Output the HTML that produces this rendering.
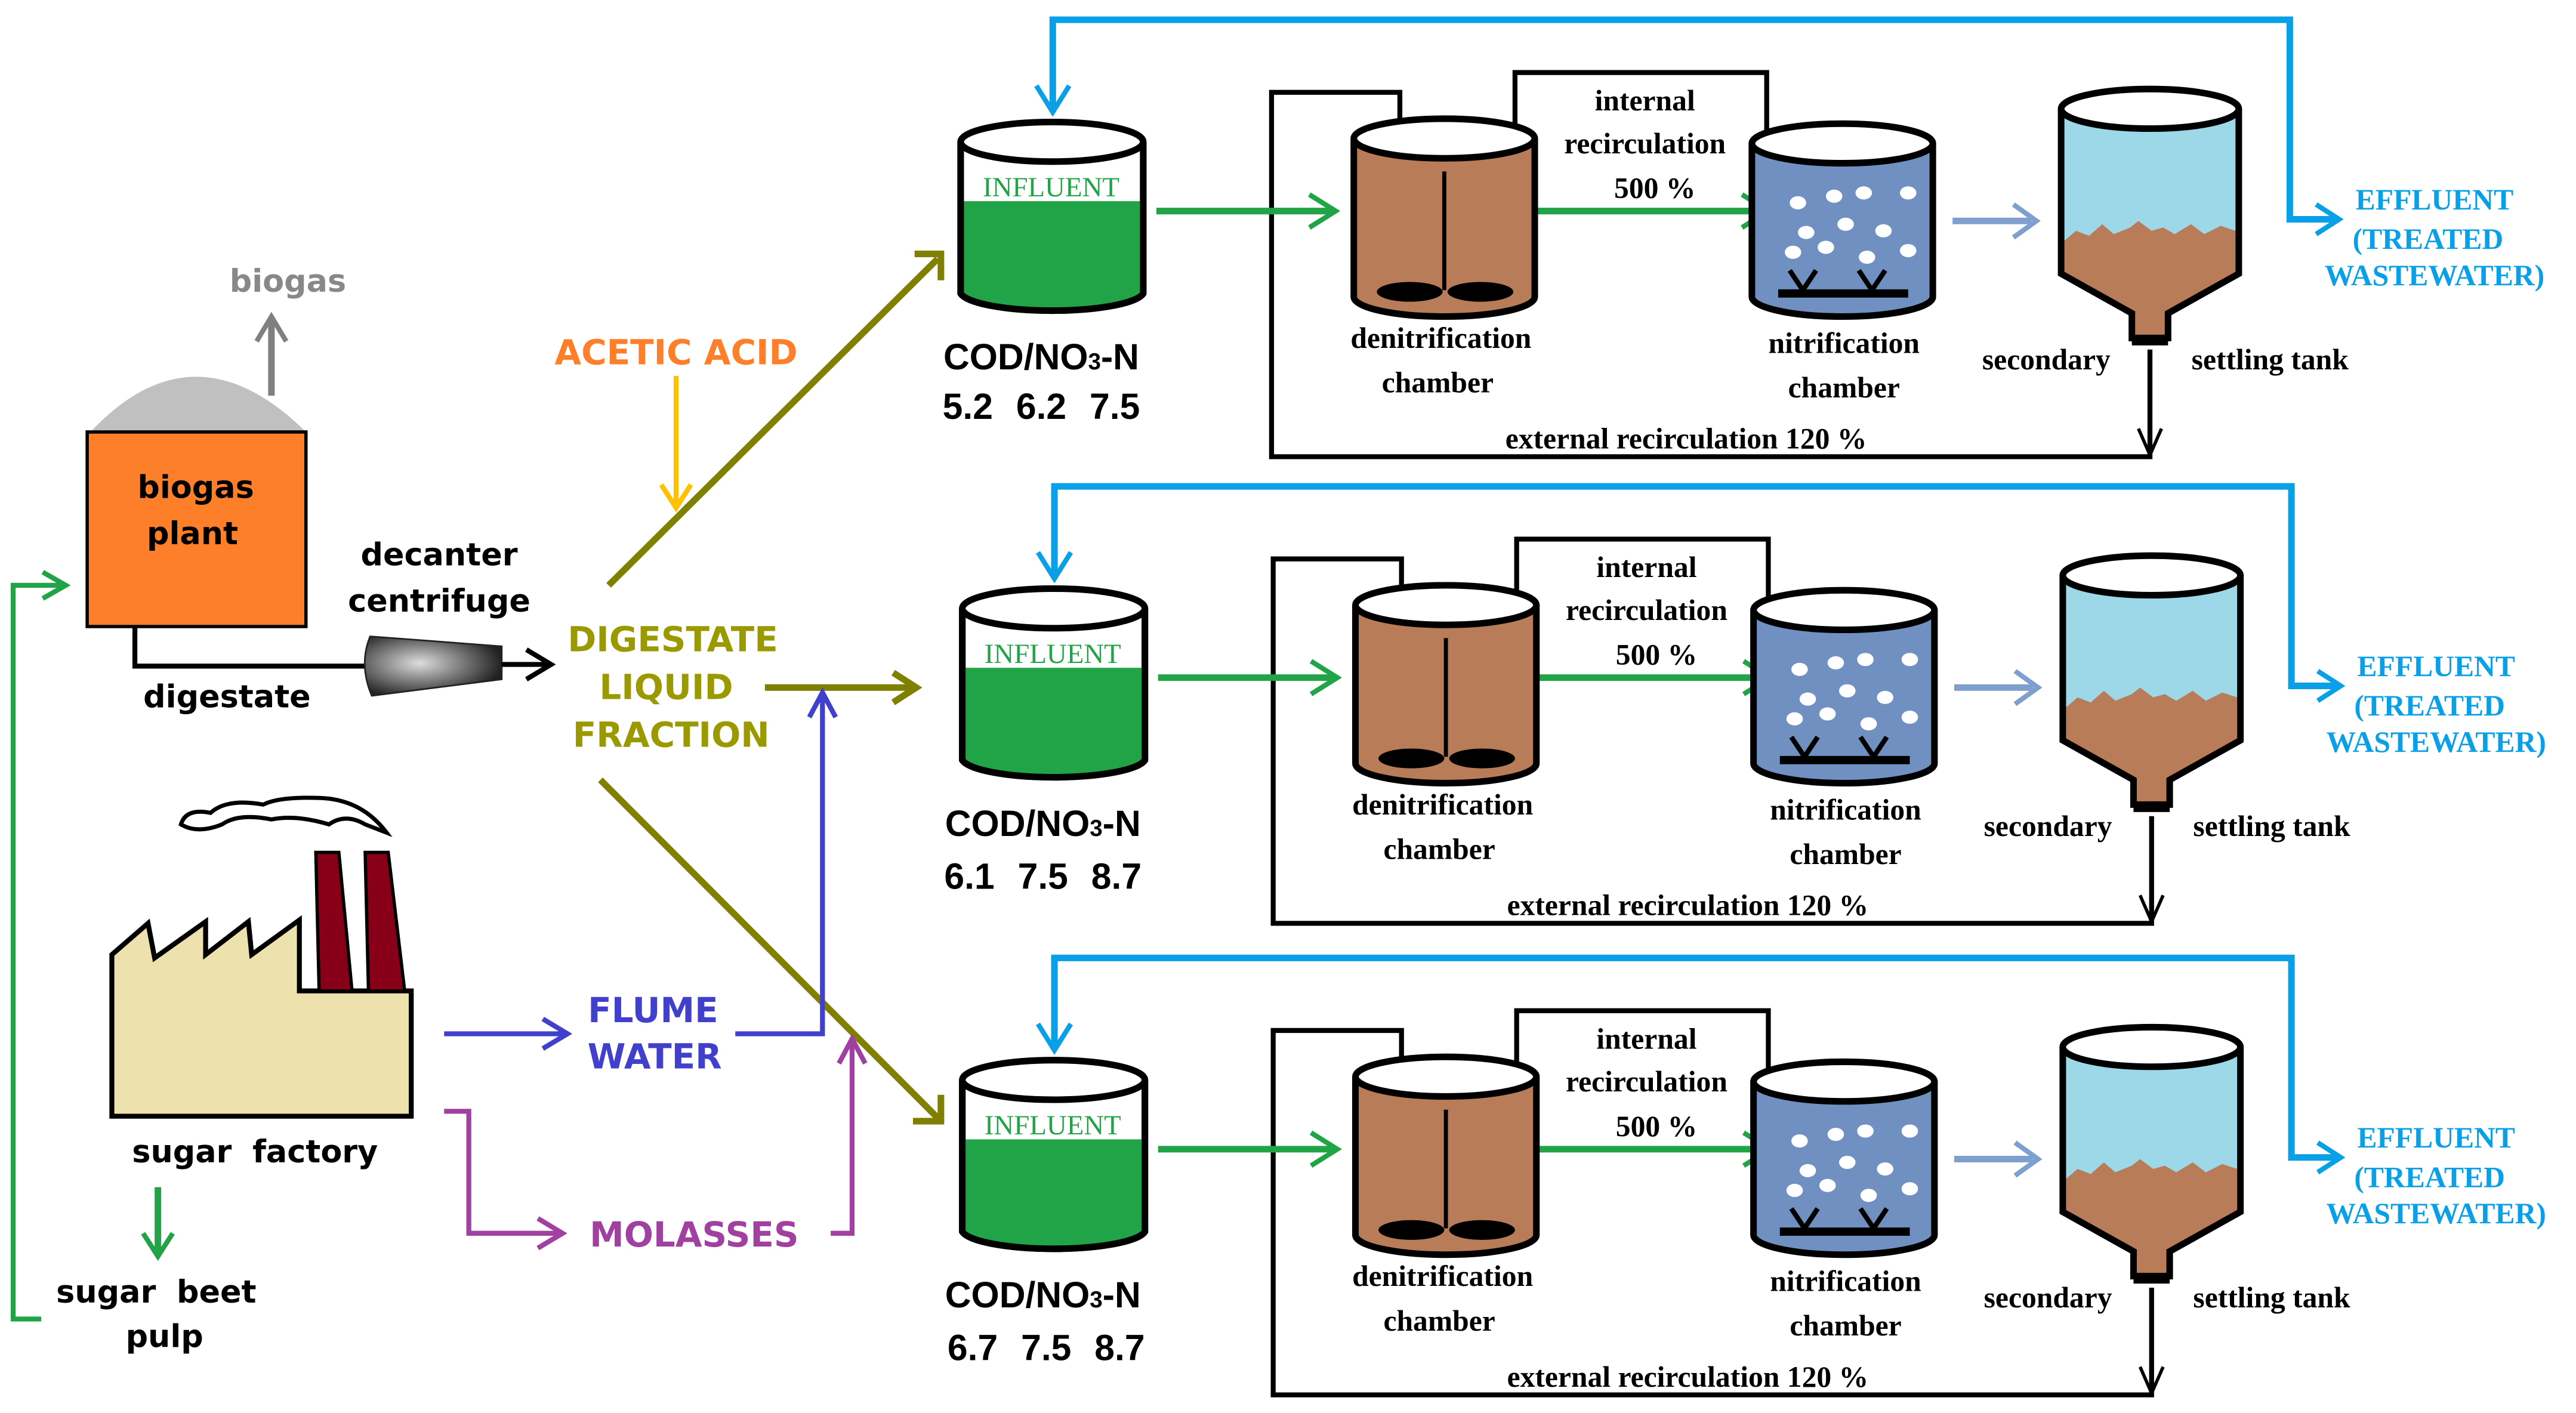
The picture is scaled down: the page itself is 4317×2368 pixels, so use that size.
<!DOCTYPE html>
<html><head><meta charset="utf-8"><style>
html,body{margin:0;padding:0;background:#fff;width:4317px;height:2368px;overflow:hidden}
svg{display:block}
.s{font-family:"DejaVu Sans","Liberation Sans",sans-serif;font-weight:bold}
.r{font-family:"Liberation Serif",serif;font-weight:bold;font-size:18px}
.c{font-family:"Liberation Sans",sans-serif;font-weight:bold;font-size:22px}
</style></head><body>
<svg width="4317" height="2368" viewBox="0 0 1566 857" preserveAspectRatio="none" xmlns="http://www.w3.org/2000/svg">
<defs>
<radialGradient id="dg" cx="0.4" cy="0.45" r="0.6"><stop offset="0" stop-color="#ddd"/><stop offset="1" stop-color="#222"/></radialGradient>
<g id="train">
  <polyline points="640,68 640,12 1392,12 1392,133 1420,133" fill="none" stroke="#0aa0e8" stroke-width="4"/>
  <path d="M630,52 L640,68 L650,52" fill="none" stroke="#0aa0e8" stroke-width="3"/>
  <path d="M1408,124 L1422,133 L1408,142" fill="none" stroke="#0aa0e8" stroke-width="3"/>
  <text x="1480" y="127" text-anchor="middle" font-family="Liberation Serif,serif" font-weight="bold" font-size="18" fill="#0aa0e8">EFFLUENT</text>
  <text x="1476" y="151" text-anchor="middle" font-family="Liberation Serif,serif" font-weight="bold" font-size="18" fill="#0aa0e8">(TREATED</text>
  <text x="1480" y="173" text-anchor="middle" font-family="Liberation Serif,serif" font-weight="bold" font-size="18" fill="#0aa0e8">WASTEWATER)</text>
  <polyline points="851,98 851,56 773,56 773,277 1307,277 1307,212" fill="none" stroke="#000" stroke-width="3"/>
  <path d="M845,84 L851,100 L857,84" fill="none" stroke="#000" stroke-width="2"/>
  <path d="M1300,260 L1307,276 L1314,260" fill="none" stroke="#000" stroke-width="2"/>
  <polyline points="1074,80 1074,44 921,44 921,96" fill="none" stroke="#000" stroke-width="3"/>
  <path d="M915,82 L921,96 L928,82" fill="none" stroke="#000" stroke-width="2"/>
  <text x="1000" y="67" text-anchor="middle" class="r">internal</text>
  <text x="1000" y="93" text-anchor="middle" class="r">recirculation</text>
  <text x="1006" y="120" text-anchor="middle" class="r">500 %</text>
  <path d="M584,86 L584,178 A56,12 0 0 0 695,178 L695,86" fill="#fff" stroke="#000" stroke-width="4"/>
  <path d="M586,122 L693,122 L693,178 A54,11 0 0 1 586,178 Z" fill="#21a347"/>
  <path d="M584,86 L584,178 A56,12 0 0 0 695,178 L695,86" fill="none" stroke="#000" stroke-width="4"/>
  <ellipse cx="639.5" cy="86" rx="55.5" ry="12" fill="#fff" stroke="#000" stroke-width="4"/>
  <text x="639" y="119" text-anchor="middle" font-family="Liberation Serif,serif" font-size="17" fill="#21a347">INFLUENT</text>
  <text x="633" y="224" text-anchor="middle" class="c">COD/NO<tspan font-size="14">3</tspan>-N</text>
  <line x1="703" y1="128" x2="810" y2="128" stroke="#21a347" stroke-width="4"/>
  <path d="M796,118 L812,128 L796,138" fill="none" stroke="#21a347" stroke-width="3"/>
  <line x1="927" y1="128" x2="1073" y2="128" stroke="#21a347" stroke-width="4"/>
  <path d="M1059,118 L1075,128 L1059,138" fill="none" stroke="#21a347" stroke-width="3"/>
  <path d="M823,84 L823,180 A55,12 0 0 0 933,180 L933,84" fill="#b87c58" stroke="#000" stroke-width="4"/>
  <ellipse cx="878" cy="84" rx="55" ry="12" fill="#fff" stroke="#000" stroke-width="4"/>
  <line x1="878" y1="104" x2="878" y2="176" stroke="#000" stroke-width="2.5"/>
  <ellipse cx="857" cy="177" rx="20" ry="6" fill="#000"/>
  <ellipse cx="900" cy="177" rx="20" ry="6" fill="#000"/>
  <text x="876" y="211" text-anchor="middle" class="r">denitrification</text>
  <text x="874" y="238" text-anchor="middle" class="r">chamber</text>
  <path d="M1065,87 L1065,180 A55,12 0 0 0 1175,180 L1175,87" fill="#6f90c0" stroke="#000" stroke-width="4"/>
  <ellipse cx="1120" cy="87" rx="55" ry="12" fill="#fff" stroke="#000" stroke-width="4"/>
  <g fill="#fff">
    <ellipse cx="1093" cy="123" rx="5" ry="4"/><ellipse cx="1115" cy="119" rx="5" ry="4"/><ellipse cx="1133" cy="117" rx="5" ry="4"/><ellipse cx="1160" cy="117" rx="5" ry="4"/>
    <ellipse cx="1098" cy="141" rx="5" ry="4"/><ellipse cx="1122" cy="136" rx="5" ry="4"/><ellipse cx="1145" cy="140" rx="5" ry="4"/>
    <ellipse cx="1090" cy="153" rx="5" ry="4"/><ellipse cx="1110" cy="150" rx="5" ry="4"/><ellipse cx="1135" cy="156" rx="5" ry="4"/><ellipse cx="1160" cy="152" rx="5" ry="4"/>
  </g>
  <path d="M1088,164 L1096,176 L1104,164 M1130,164 L1138,176 L1146,164" fill="none" stroke="#000" stroke-width="3"/>
  <line x1="1081" y1="178" x2="1160" y2="178" stroke="#000" stroke-width="5"/>
  <text x="1121" y="214" text-anchor="middle" class="r">nitrification</text>
  <text x="1121" y="241" text-anchor="middle" class="r">chamber</text>
  <line x1="1187" y1="134" x2="1235" y2="134" stroke="#7f9fcf" stroke-width="4"/>
  <path d="M1224,124 L1238,134 L1224,144" fill="none" stroke="#7f9fcf" stroke-width="3"/>
  <path d="M1253,66 L1253,166 L1296,190 L1296,205 L1318,205 L1318,190 L1361,166 L1361,66 Z" fill="#9dd8e8"/>
  <path d="M1255,146 L1262,140 L1270,143 L1278,136 L1285,142 L1295,138 L1300,134 L1308,140 L1315,138 L1322,142 L1332,136 L1340,142 L1350,137 L1359,140 L1359,166 L1318,190 L1318,205 L1296,205 L1296,190 L1255,166 Z" fill="#b87c58"/>
  <path d="M1253,66 L1253,166 L1296,190 L1296,205 L1318,205 L1318,190 L1361,166 L1361,66" fill="none" stroke="#000" stroke-width="4"/>
  <line x1="1296" y1="207" x2="1318" y2="207" stroke="#000" stroke-width="5"/>
  <ellipse cx="1307" cy="66" rx="54" ry="12" fill="#fff" stroke="#000" stroke-width="4"/>
  <text x="1244" y="224" text-anchor="middle" class="r">secondary</text>
  <text x="1380" y="224" text-anchor="middle" class="r">settling tank</text>
  <text x="1025" y="272" text-anchor="middle" class="r" font-size="17">external recirculation 120 %</text>
</g>
</defs>

<use href="#train"/>
<text x="633" y="254" text-anchor="middle" class="c" word-spacing="8">5.2 6.2 7.5</text>
<use href="#train" transform="translate(1,283)"/>
<text x="634" y="539" text-anchor="middle" class="c" word-spacing="8">6.1 7.5 8.7</text>
<use href="#train" transform="translate(1,569)"/>
<text x="636" y="825" text-anchor="middle" class="c" word-spacing="8">6.7 7.5 8.7</text>

<path d="M55,262 Q118,195 186,262 Z" fill="#c0c0c0"/>
<rect x="53" y="262" width="133" height="118" fill="#fd7f29" stroke="#000" stroke-width="2"/>
<line x1="165" y1="240" x2="165" y2="194" stroke="#808080" stroke-width="4"/>
<path d="M156,207 L165,192 L174,207" fill="none" stroke="#808080" stroke-width="3"/>
<text x="175" y="177" text-anchor="middle" class="s" font-size="19" fill="#888">biogas</text>
<text x="119" y="302" text-anchor="middle" class="s" font-size="19">biogas</text>
<text x="117" y="330" text-anchor="middle" class="s" font-size="19">plant</text>
<polyline points="82,380 82,404 225,404" fill="none" stroke="#000" stroke-width="3"/>
<path d="M225,386 Q218,403 226,422 L305,412 L305,392 Z" fill="url(#dg)" stroke="#222" stroke-width="1"/>
<line x1="305" y1="403" x2="333" y2="403" stroke="#000" stroke-width="3"/>
<path d="M320,394 L335,403 L320,412" fill="none" stroke="#000" stroke-width="3"/>
<text x="138" y="429" text-anchor="middle" class="s" font-size="19">digestate</text>
<text x="267" y="343" text-anchor="middle" class="s" font-size="19">decanter</text>
<text x="267" y="371" text-anchor="middle" class="s" font-size="19">centrifuge</text>
<text x="411" y="221" text-anchor="middle" class="s" font-size="21" fill="#fd7f29">ACETIC ACID</text>
<line x1="411" y1="228" x2="411" y2="306" stroke="#ffc000" stroke-width="3"/>
<path d="M402,294 L411,308 L420,294" fill="none" stroke="#ffc000" stroke-width="3"/>
<g fill="#9a9a00" class="s" font-size="21" text-anchor="middle">
<text x="409" y="395">DIGESTATE</text><text x="405" y="424">LIQUID</text><text x="408" y="453">FRACTION</text></g>
<g stroke="#808000" stroke-width="4" fill="none">
<line x1="370" y1="355" x2="570" y2="157"/>
<path d="M556,154 L572,154 L572,170"/>
<line x1="465" y1="417" x2="555" y2="417"/>
<path d="M543,408 L557,417 L543,426"/>
<line x1="365" y1="473" x2="570" y2="678"/>
<path d="M555,680 L572,680 L572,664"/>
</g>
<path d="M68,579 L90,560 L94,581 L125,559 L125,579 L151,559 L153,579 L182,558 L182,601 L250,601 L250,677 L68,677 Z" fill="#ede2ae" stroke="#000" stroke-width="3"/>
<path d="M192,517 L206,517 L214,601 L194,601 Z" fill="#880018" stroke="#000" stroke-width="2"/>
<path d="M222,517 L236,517 L246,601 L224,601 Z" fill="#880018" stroke="#000" stroke-width="2"/>
<path d="M110,500 Q113,490 128,493 Q138,484 160,488 Q170,483 195,484 Q220,485 235,505 L222,500 Q210,493 200,500 Q180,494 165,497 Q145,493 135,500 Q120,506 110,500 Z" fill="#fff" stroke="#000" stroke-width="2.5"/>
<text x="155" y="705" text-anchor="middle" class="s" font-size="19" word-spacing="6">sugar factory</text>
<line x1="96" y1="720" x2="96" y2="760" stroke="#21a347" stroke-width="4"/>
<path d="M87,748 L96,762 L105,748" fill="none" stroke="#21a347" stroke-width="3"/>
<text x="95" y="790" text-anchor="middle" class="s" font-size="19" word-spacing="6">sugar beet</text>
<text x="100" y="817" text-anchor="middle" class="s" font-size="19">pulp</text>
<polyline points="25,800 8,800 8,355 38,355" fill="none" stroke="#21a347" stroke-width="3"/>
<path d="M26,347 L40,355 L26,363" fill="none" stroke="#21a347" stroke-width="3"/>
<text x="397" y="620" text-anchor="middle" class="s" font-size="21" fill="#4040cc">FLUME</text>
<text x="398" y="648" text-anchor="middle" class="s" font-size="21" fill="#4040cc">WATER</text>
<line x1="270" y1="627" x2="343" y2="627" stroke="#4040cc" stroke-width="3"/>
<path d="M330,618 L345,627 L330,636" fill="none" stroke="#4040cc" stroke-width="3"/>
<polyline points="447,627 500,627 500,422" fill="none" stroke="#4040cc" stroke-width="3"/>
<path d="M492,435 L500,420 L508,435" fill="none" stroke="#4040cc" stroke-width="3"/>
<text x="422" y="756" text-anchor="middle" class="s" font-size="21" fill="#a040a0">MOLASSES</text>
<polyline points="270,674 285,674 285,748 340,748" fill="none" stroke="#a040a0" stroke-width="3"/>
<path d="M327,739 L342,748 L327,757" fill="none" stroke="#a040a0" stroke-width="3"/>
<polyline points="505,748 518,748 518,632" fill="none" stroke="#a040a0" stroke-width="3"/>
<path d="M510,645 L518,630 L526,645" fill="none" stroke="#a040a0" stroke-width="3"/>
</svg>
</body></html>
